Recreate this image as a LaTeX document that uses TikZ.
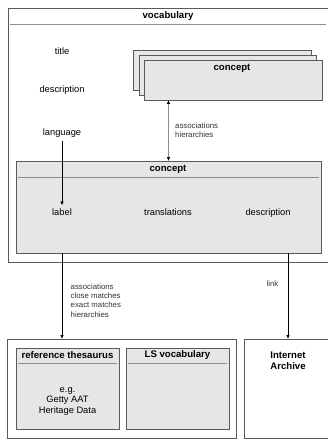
\documentclass[tikz,border=0pt]{standalone}
\usepackage{fontspec}
\setmainfont{Liberation Sans}
\usetikzlibrary{arrows.meta,positioning}
\definecolor{boxgray}{HTML}{E6E6E6}
\definecolor{edgegray}{HTML}{5A5A5A}
\definecolor{rulegray}{HTML}{8C8C8C}
\tikzset{
	frame/.style={draw=edgegray, line width=0.8pt, rectangle, inner sep=0pt},
	card/.style={frame, fill=boxgray},
	heading/.style={font=\fontsize{9.6}{11}\selectfont\bfseries},
	field/.style={font=\fontsize{9.3}{10.5}\selectfont},
	word/.style={field, text height=7pt, text depth=2pt},
	note/.style={font=\fontsize{7.8}{9.3}\selectfont, align=left, text=black!80},
	tip/.tip={Triangle[length=3.5pt,width=3pt,color=black]},
	rel/.style={-tip, line width=0.7pt},
}
\begin{document}
\begin{tikzpicture}[x=1pt, y=-1pt]
	\useasboundingbox (0,0) rectangle (328,439);

	% Vocabulary
	\draw (171.5,135) node[frame, minimum width=327pt, minimum height=254pt] (vocab) {} ;
	\draw[rulegray, line width=0.8pt] (10,24) -- (326,24);
	\draw (168,16) node[heading] (vocabtitle) {vocabulary};
	\draw (62,52) node[word] (title) {title};
	\draw (62,90) node[word] (vdesc) {description};
	\draw (62,133) node[word] (language) {language};

	% Stacked concepts
	\draw (222,70) node[card, minimum width=178pt, minimum height=40pt] (stackc) {} ;
	\draw (227.5,75) node[card, minimum width=177pt, minimum height=40pt] (stackb) {} ;
	\draw (233,80) node[card, minimum width=178pt, minimum height=40pt] (stacka) {} ;
	\draw (232,68) node[heading] (stacktitle) {concept};

	% Concept
	\draw (168.5,207) node[card, minimum width=305pt, minimum height=92pt] (concept) {} ;
	\draw[rulegray, line width=0.8pt] (18,177) -- (319,177);
	\draw (168,169) node[heading] (concepttitle) {concept};
	\draw (62,213) node[word] (label) {label};
	\draw (168,213) node[word] (translations) {translations};
	\draw (268,213) node[word] (cdesc) {description};

	% Thesauri
	\draw (121.5,388.5) node[frame, minimum width=229pt, minimum height=99pt] (thesauri) {} ;
	\draw (67.5,388.5) node[card, minimum width=103pt, minimum height=81pt] (refthes) {} ;
	\draw (177.5,388.5) node[card, minimum width=103pt, minimum height=81pt] (lsvocab) {} ;
	\draw[rulegray, line width=0.8pt] (18,363) -- (117,363);
	\draw[rulegray, line width=0.8pt] (128,363) -- (227,363);
	\draw (67.5,355) node[heading] (reftitle) {reference thesaurus};
	\draw (177.5,355) node[heading] (lstitle) {LS vocabulary};
	\draw (67.5,401) node[field, align=center] (examples) {e.g.\\Getty AAT\\Heritage Data};

	% Internet Archive
	\draw (288,388.5) node[frame, minimum width=88pt, minimum height=99pt] (archive) {} ;
	\draw (288,361) node[heading, align=center] (archivetitle) {Internet\\Archive};

	% Relations
	\draw[rel, tip-tip, rulegray] (concept.north |- stacka.south) -- node[note, right, xshift=3pt] {associations\\hierarchies} (concept.north);
	\draw[rel] (language) -- (label);
	\draw[rel] (label |- concept.south) -- node[note, right, pos=0.55, xshift=5pt] {associations\\close matches\\exact matches\\hierarchies} (label |- thesauri.north);
	\draw[rel] (archive.north |- concept.south) -- node[note, left, pos=0.35, xshift=-6pt] {link} (archive.north);

\end{tikzpicture}
\end{document}
